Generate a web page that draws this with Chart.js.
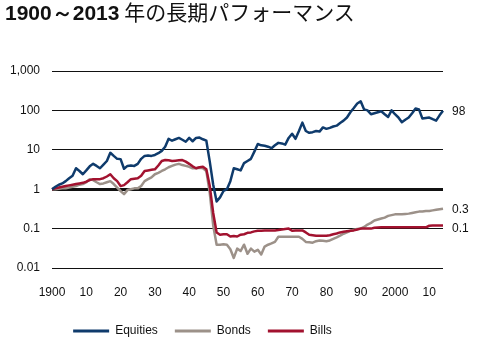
<!DOCTYPE html>
<html>
<head>
<meta charset="utf-8">
<script src="https://cdn.jsdelivr.net/npm/chart.js@4/dist/chart.umd.min.js"></script>
<style>
  body { margin: 0; background: #fff; }
  #wrap { position: relative; width: 480px; height: 348px; }
  #title {
    position: absolute; left: 5px; top: 1px;
    font: 21px/20px "Noto Sans CJK JP", sans-serif; color: #111; white-space: nowrap;
  }
  #title b { font-family: "Liberation Sans", Arial, sans-serif; }
</style>
</head>
<body>
<div id="wrap">
  <div id="title"><b>1900～2013</b> 年の長期パフォーマンス</div>
  <canvas id="chart" width="480" height="348"></canvas>
</div>
<script>
// === data (value at start of each year, 1900 = 1) ===
const years = [];
for (let y = 1900; y <= 2014; y++) years.push(y);

const equities = [
	1.0, 1.15, 1.3, 1.4, 1.6, 1.9, 2.2, 3.4, 2.9, 2.4,
	3.0, 3.8, 4.4, 3.9, 3.4, 4.2, 5.2, 8.4, 7.0, 5.9,
	5.8, 3.3, 3.9, 4.0, 3.9, 4.4, 5.9, 7.0, 7.2, 7.0,
	7.4, 8.2, 9.4, 12, 19, 17, 18.5, 20, 18, 16,
	20, 16.5, 20, 20.5, 18.5, 17, 5, 1.3, 0.49, 0.62,
	0.9, 1.0, 1.6, 3.4, 3.2, 3.0, 4.6, 5.2, 5.9, 9,
	14, 13, 12.7, 12, 11, 13, 15, 14.5, 13.5, 20,
	25.6, 19, 30, 49, 30, 27, 28, 30, 29, 37,
	34, 36, 39, 41, 48, 55, 66, 90, 115, 150,
	170, 106, 100, 80, 85, 90, 95, 80, 68, 100,
	80, 66, 50, 58, 66, 85, 112, 106, 62, 64,
	66, 60, 55, 75, 98,
];

const bonds = [
	1.0, 1.0, 1.02, 1.05, 1.05, 1.1, 1.15, 1.2, 1.3, 1.35,
	1.5, 1.8, 1.7, 1.5, 1.35, 1.4, 1.5, 1.6, 1.35, 1.1,
	0.9, 0.75, 0.95, 1.0, 1.05, 1.05, 1.2, 1.6, 1.8, 2.0,
	2.4, 2.6, 2.9, 3.2, 3.6, 3.9, 4.2, 4.4, 4.1, 3.9,
	3.7, 3.4, 3.4, 3.5, 3.4, 2.9, 0.8, 0.12, 0.039, 0.039,
	0.04, 0.039, 0.03, 0.018, 0.031, 0.027, 0.039, 0.023, 0.031, 0.026,
	0.029, 0.022, 0.035, 0.039, 0.042, 0.046, 0.062, 0.062, 0.062, 0.062,
	0.062, 0.062, 0.062, 0.055, 0.046, 0.045, 0.044, 0.048, 0.05, 0.049,
	0.048, 0.05, 0.055, 0.06, 0.066, 0.074, 0.08, 0.088, 0.094, 0.098,
	0.1, 0.11, 0.127, 0.14, 0.16, 0.17, 0.18, 0.19, 0.21, 0.22,
	0.23, 0.23, 0.23, 0.235, 0.24, 0.25, 0.26, 0.27, 0.27, 0.28,
	0.28, 0.29, 0.3, 0.31, 0.32,
];

const bills = [
	1.0, 1.05, 1.1, 1.15, 1.2, 1.25, 1.3, 1.35, 1.4, 1.45,
	1.55, 1.7, 1.8, 1.8, 1.8, 1.9, 2.1, 2.4, 1.9, 1.6,
	1.2, 1.27, 1.5, 1.8, 1.85, 1.9, 2.2, 2.9, 3.0, 3.1,
	3.2, 4.0, 5.2, 5.5, 5.4, 5.2, 5.3, 5.4, 5.5, 5.0,
	4.4, 3.8, 3.4, 3.6, 3.7, 3.2, 1.2, 0.25, 0.08, 0.07,
	0.072, 0.072, 0.063, 0.065, 0.063, 0.07, 0.072, 0.078, 0.08, 0.085,
	0.088, 0.088, 0.09, 0.09, 0.09, 0.09, 0.092, 0.095, 0.098, 0.1,
	0.088, 0.09, 0.09, 0.09, 0.08, 0.07, 0.068, 0.066, 0.066, 0.066,
	0.066, 0.068, 0.072, 0.075, 0.08, 0.083, 0.086, 0.088, 0.09, 0.095,
	0.1, 0.1, 0.1, 0.1, 0.105, 0.107, 0.108, 0.108, 0.108, 0.108,
	0.108, 0.108, 0.108, 0.108, 0.108, 0.108, 0.108, 0.108, 0.108, 0.108,
	0.118, 0.12, 0.12, 0.12, 0.12,
];

const endLabels = ["98", "0.3", "0.1"];
const yTicks = [0.01, 0.1, 1, 10, 100, 1000];
const yTickLabels = ["0.01", "0.1", "1", "10", "100", "1,000"];
const xTickLabels = ["1900", "10", "20", "30", "40", "50", "60", "70", "80", "90", "2000", "10"];

// === label di ujung garis ===
const endLabelPlugin = {
	id: "endLabels",
	afterDatasetsDraw(chart) {
		const ctx = chart.ctx;
		const dy = [1, 1, 3];
		ctx.save();
		ctx.font = "12px 'Liberation Sans', Arial, sans-serif";
		ctx.fillStyle = "#111";
		ctx.textBaseline = "middle";
		chart.data.datasets.forEach((ds, i) => {
			const pts = chart.getDatasetMeta(i).data;
			const p = pts[pts.length - 1];
			ctx.fillText(endLabels[i], p.x + 9, p.y + dy[i]);
		});
		ctx.restore();
	},
};

// legend digeser ke kiri spt referensi
const legendShift = {
	id: "legendShift",
	afterLayout(chart) {
		chart.legend.left -= 19;
		chart.legend.right -= 19;
	},
};

Chart.defaults.font.family = "'Liberation Sans', Arial, sans-serif";
Chart.defaults.font.size = 12;
Chart.defaults.color = "#111";

const defaultLabels = Chart.defaults.plugins.legend.labels.generateLabels;

new Chart(document.getElementById("chart"), {
	type: "line",
	data: {
		labels: years,
		datasets: [
			{ label: "Equities", data: equities, borderColor: "#0f3b6c", backgroundColor: "#0f3b6c", order: 0 },
			{ label: "Bonds", data: bonds, borderColor: "#9c9189", backgroundColor: "#9c9189", order: 2 },
			{ label: "Bills", data: bills, borderColor: "#a2122f", backgroundColor: "#a2122f", order: 1 },
		],
	},
	options: {
		responsive: false,
		animation: false,
		layout: { padding: { top: 71, right: 37, bottom: 1, left: 0 } },
		elements: {
			point: { radius: 0 },
			line: { borderWidth: 2.5, tension: 0, borderJoinStyle: "round" },
		},
		scales: {
			x: {
				grid: { display: false },
				border: { display: false },
				ticks: {
					autoSkip: false,
					maxRotation: 0,
					padding: 9,
					callback: (v, i) => (i % 10 === 0 ? xTickLabels[i / 10] : ""),
				},
				afterFit: (s) => { s.height = 40; },
			},
			y: {
				type: "logarithmic",
				min: 0.01,
				max: 1000,
				border: { display: false },
				grid: {
					color: "#111",
					drawTicks: false,
					lineWidth: (c) => (c.tick && c.tick.value === 1 ? 3 : 1),
				},
				ticks: {
					padding: 12,
					callback: (v, i) => yTickLabels[i],
				},
				afterBuildTicks: (s) => { s.ticks = yTicks.map((v) => ({ value: v })); },
				afterFit: (s) => { s.width = 52; },
			},
		},
		plugins: {
			legend: {
				position: "bottom",
				labels: {
					usePointStyle: true,
					pointStyle: "line",
					pointStyleWidth: 36,
					padding: 17,
					color: "#111",
					sort: (a, b) => a.datasetIndex - b.datasetIndex,
					generateLabels: (chart) =>
						defaultLabels(chart).map((it) => ({ ...it, lineWidth: 3 })),
				},
			},
			tooltip: { enabled: false },
		},
	},
	plugins: [endLabelPlugin, legendShift],
});
</script>
</body>
</html>
